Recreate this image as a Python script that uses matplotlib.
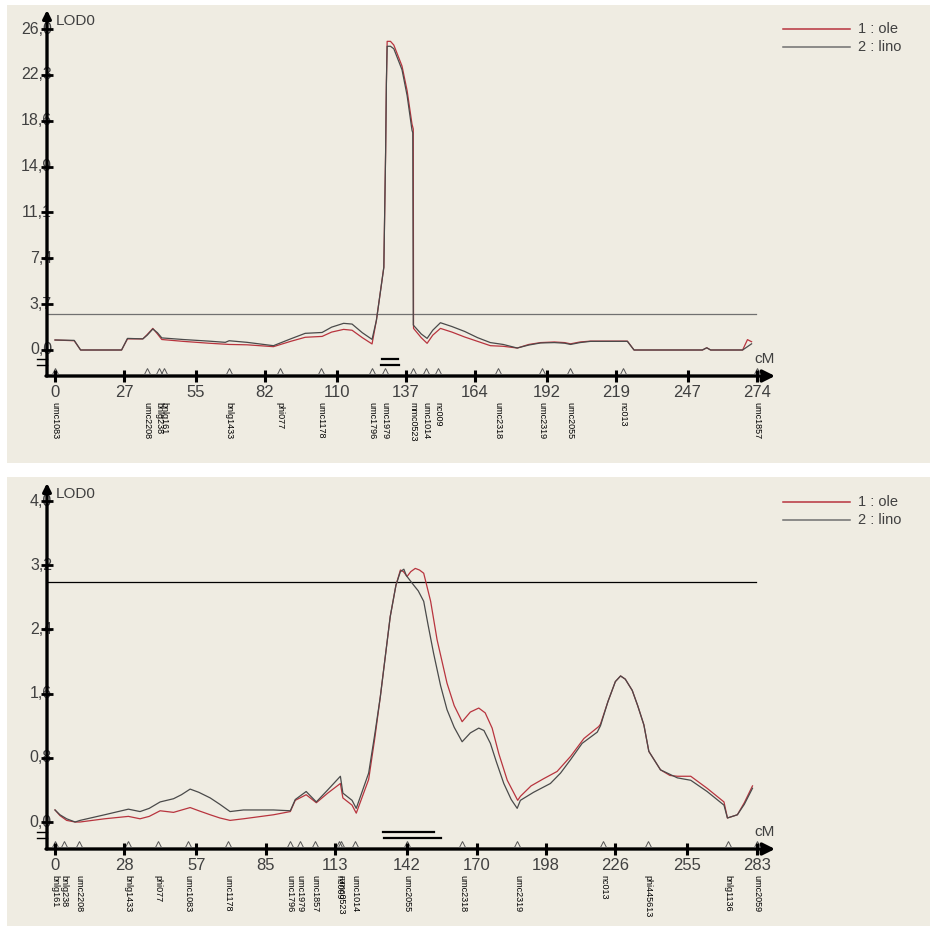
import matplotlib
matplotlib.use("Agg")
import matplotlib.pyplot as plt
from matplotlib.patches import Rectangle

plt.rcParams['font.family'] = ['Liberation Sans', 'DejaVu Sans']

W, H = 933, 930
BG = "#efece2"
RED = "#b8343e"
GREY = "#4a4a4a"
TXT = "#404040"

# ---------------- top chromosome ----------------
top_xticks = [0, 27, 55, 82, 110, 137, 164, 192, 219, 247, 274]
top_yticks = [0.0, 3.714, 7.429, 11.143, 14.857, 18.571, 22.286, 26.0]
top_marker_names = ["umc1083", "umc2208", "bnlg238", "bnlg161", "bnlg1433", "phi077",
                    "umc1178", "umc1796", "umc1979", "mmc0523", "umc1014", "nc009",
                    "umc2318", "umc2319", "umc2055", "nc013", "umc1857"]
top_marker_cm = [0, 36.0, 40.7, 42.6, 68.0, 88.0, 104.0, 123.9, 129.0, 139.6, 145.0,
                 149.7, 172.8, 190.0, 201.0, 221.7, 274]

top_ole_cm = [0, 7.5, 10, 26, 28.3, 34.3, 36, 38.2, 40, 41.7, 50, 60, 68, 75, 85.3, 92,
              97.7, 104.3, 108, 112.7, 116, 120, 123.8, 125.5, 128.4, 129.1, 129.4, 129.7,
              131, 132.3, 135.5, 137.5, 139.4, 139.9, 140.0, 143, 145.3, 147.5, 150.5, 155,
              160, 165, 170, 175, 180.5, 185, 189.6, 195, 199, 201.3, 205, 209.1, 223.5,
              226.1, 252.8, 254.5, 256, 268.5, 270.4, 272]
top_ole_lod = [0.81, 0.75, 0.0, 0.0, 0.9, 0.9, 1.25, 1.75, 1.3, 0.85, 0.7, 0.55, 0.45, 0.42,
               0.27, 0.7, 1.03, 1.1, 1.45, 1.67, 1.6, 1.0, 0.49, 2.4, 6.7, 16.0, 21.6, 25.0,
               25.0, 24.7, 23.0, 21.0, 18.3, 17.9, 1.75, 1.0, 0.54, 1.2, 1.75, 1.45,
               1.05, 0.7, 0.35, 0.3, 0.16, 0.45, 0.6, 0.65, 0.6, 0.5, 0.65, 0.72, 0.72,
               0.0, 0.0, 0.18, 0.0, 0.0, 0.84, 0.67]

top_lino_cm = [0, 7.5, 10, 26, 28.3, 34.3, 36, 38.2, 40, 41.7, 50, 60, 66.5, 68, 75, 85.3,
               92, 97.7, 104.3, 108, 112.7, 116, 120, 123.8, 125.5, 128.4, 129.1, 129.4,
               129.7, 131, 132.3, 135.5, 137.5, 139.4, 139.7, 139.9, 143, 145.3, 147.5,
               150.5, 155, 160, 165, 170, 175, 180.5, 185, 189.6, 195, 199, 201.3, 205,
               209.1, 223.5, 226.1, 252.8, 254.5, 256, 268.5, 272]
top_lino_lod = [0.81, 0.78, 0.0, 0.0, 0.94, 0.9, 1.2, 1.7, 1.4, 0.98, 0.85, 0.72, 0.62,
                0.75, 0.62, 0.35, 0.9, 1.35, 1.42, 1.85, 2.16, 2.1, 1.4, 0.86, 2.4, 6.7,
                16.0, 21.6, 24.6, 24.6, 24.4, 22.7, 20.6, 17.8, 17.6, 2.02, 1.3, 0.94, 1.6,
                2.21, 1.9, 1.5, 1.0, 0.6, 0.45, 0.16, 0.4, 0.57, 0.6, 0.55, 0.45, 0.6, 0.7,
                0.7, 0.0, 0.0, 0.18, 0.0, 0.0, 0.5]

top_threshold = 2.92
top_intervals = [(127.5, 134.0), (127.3, 134.2)]

# ---------------- bottom chromosome ----------------
bot_xticks = [0, 28, 57, 85, 113, 142, 170, 198, 226, 255, 283]
bot_yticks = [0.0, 0.8, 1.6, 2.4, 3.2, 4.0]
bot_marker_names = ["bnlg161", "bnlg238", "umc2208", "bnlg1433", "phi077", "umc1083",
                    "umc1178", "umc1796", "umc1979", "umc1857", "nc009", "mmc0523",
                    "umc1014", "umc2055", "umc2318", "umc2319", "nc013", "phi445613",
                    "bnlg1136", "umc2059"]
bot_marker_cm = [0, 3.6, 9.7, 29.5, 41.6, 53.7, 69.8, 94.9, 98.9, 105.0, 114.7, 115.5,
                 121.1, 142.1, 164.3, 186.5, 221.2, 239.0, 271.3, 283]

bot_ole_cm = [0, 2, 4.7, 8.1, 10.1, 20, 29.6, 34.3, 38, 42.4, 47.8, 54.5, 58, 62.6, 66.5,
              70.6, 76, 88.1, 94.9, 96.9, 101.3, 105.4, 110, 115.1, 116.1, 119.8, 121.5,
              126.5, 129, 131.2, 135.2, 137.5, 139.3, 140.5, 142, 143.5, 145.3, 147, 148.7,
              151.5, 154.1, 158.1, 161, 164.2, 167.5, 170.9, 173.5, 176.3, 179, 182.4,
              186.6, 187.7, 192, 197.1, 202.5, 208, 213.3, 219.3, 220, 223, 226, 228.1,
              230, 232.8, 235, 237.5, 239.5, 244.2, 248, 251, 256.4, 263, 269.8, 271.2,
              275.2, 278, 281.3]
bot_ole_lod = [0.15, 0.08, 0.02, 0.0, 0.0, 0.04, 0.07, 0.04, 0.07, 0.14, 0.12, 0.18, 0.14,
               0.09, 0.05, 0.02, 0.04, 0.09, 0.13, 0.27, 0.34, 0.24, 0.36, 0.48, 0.30, 0.21,
               0.11, 0.53, 1.05, 1.56, 2.56, 2.95, 3.14, 3.12, 3.06, 3.12, 3.16, 3.14, 3.10,
               2.75, 2.27, 1.73, 1.45, 1.25, 1.37, 1.42, 1.36, 1.17, 0.85, 0.52, 0.27,
               0.32, 0.45, 0.54, 0.63, 0.82, 1.04, 1.19, 1.22, 1.5, 1.75, 1.82, 1.78, 1.64,
               1.45, 1.21, 0.88, 0.65, 0.58, 0.57, 0.57, 0.42, 0.25, 0.05, 0.09, 0.24, 0.45]

bot_lino_cm = [0, 2, 4.7, 8.1, 10.1, 20, 29.6, 34.3, 38, 42.4, 47.8, 51, 54.5, 58, 62.6,
               66.5, 70.6, 76, 88.1, 94.9, 96.9, 101.3, 105.4, 110, 115.1, 116.1, 119.8,
               121.5, 126.5, 129, 131.2, 135.2, 137.5, 139.3, 140.7, 141.7, 144.7, 146.5,
               148.7, 150.5, 152.7, 155.5, 158.1, 161, 164.2, 167.5, 170.9, 173, 175.6, 178,
               181, 184, 186.4, 187.7, 193, 199.8, 203.9, 208, 212.6, 218.7, 220, 223, 226,
               228.1, 230, 232.8, 235, 237.5, 239.5, 244.2, 251, 256.4, 263, 269.8, 271.2,
               275.2, 278, 281.3]
bot_lino_lod = [0.15, 0.09, 0.04, 0.0, 0.02, 0.09, 0.16, 0.13, 0.17, 0.25, 0.29, 0.34, 0.41,
                0.37, 0.30, 0.22, 0.13, 0.15, 0.15, 0.14, 0.28, 0.38, 0.25, 0.40, 0.57, 0.36,
                0.27, 0.17, 0.61, 1.1, 1.56, 2.56, 2.95, 3.12, 3.15, 3.07, 2.95, 2.88, 2.75,
                2.45, 2.10, 1.70, 1.40, 1.18, 1.0, 1.11, 1.17, 1.14, 0.98, 0.75, 0.48, 0.28,
                0.17, 0.27, 0.37, 0.48, 0.61, 0.78, 0.98, 1.12, 1.2, 1.5, 1.75, 1.82, 1.78,
                1.64, 1.45, 1.21, 0.88, 0.65, 0.55, 0.52, 0.38, 0.21, 0.05, 0.09, 0.22, 0.42]

bot_threshold = 2.99
bot_intervals = [(132.4, 153.0), (132.8, 155.6)]

series_labels = ["1 : ole", "2 : lino"]

fig = plt.figure(figsize=(W / 100, H / 100), dpi=100)
fig.patch.set_facecolor("white")


def fmt(v):
    return f"{v:.1f}".replace(".", ",")


def panel(box, x0px, x1px, xmax, y0px, y1px, ymax):
    # axes covering the whole beige panel, data mapped to the original pixel layout
    l, t, r, b = box
    ax = fig.add_axes([l / W, 1 - b / H, (r - l) / W, (b - t) / H])
    sx = (x1px - x0px) / xmax
    sy = (y0px - y1px) / ymax
    ax.set_xlim((l - x0px) / sx, (r - x0px) / sx)
    ax.set_ylim((y0px - b) / sy, (y0px - t) / sy)
    ax.axis("off")
    ax.add_patch(Rectangle((0, 0), 1, 1, transform=ax.transAxes, facecolor=BG,
                           edgecolor="none", zorder=0))
    X = lambda p: (p - x0px) / sx
    Y = lambda p: (y0px - p) / sy
    return ax, X, Y


def draw(ax, X, Y, axis_py, ytop_py, xticks, yticks, names, mcm, ole, lino,
         thr, thr_col, intervals, leg_py, ntop_py):
    ya = Y(axis_py)
    # curves
    ax.plot(ole[0], ole[1], color=RED, lw=0.9, zorder=3)
    ax.plot(lino[0], lino[1], color=GREY, lw=0.9, zorder=4)
    # threshold
    ax.plot([X(47), X(756)], [thr, thr], color=thr_col, lw=0.9, zorder=2)
    # axes with arrows
    ax.annotate("", xy=(X(775), ya), xytext=(X(46), ya),
                arrowprops=dict(arrowstyle="-|>", lw=2.4, color="black",
                                mutation_scale=18, shrinkA=0, shrinkB=0), zorder=5)
    ax.annotate("", xy=(X(47), Y(ytop_py)), xytext=(X(47), ya),
                arrowprops=dict(arrowstyle="-|>", lw=2.4, color="black",
                                mutation_scale=12, shrinkA=0, shrinkB=0), zorder=5)
    # y ticks
    ax.plot([X(47)] * len(yticks), yticks, ls="none", marker="_", ms=9, mew=2,
            color="black", zorder=5)
    for v in yticks:
        ax.text(X(52), v, fmt(v), ha="right", va="center", fontsize=11.5, color=TXT,
                zorder=4)
    # small ticks below zero + support intervals
    for k, (a, e) in enumerate(intervals):
        yy = Y(axis_py - 17 + 6 * k)
        ax.plot([X(37), X(47)], [yy, yy], color="black", lw=1, zorder=5)
        ax.plot([a, e], [yy, yy], color="black", lw=1.6, zorder=5)
    # x ticks
    ax.plot(xticks, [ya] * len(xticks), ls="none", marker="|", ms=8, mew=2.2,
            color="black", zorder=6)
    for v in xticks:
        ax.text(v, Y(axis_py + 9), str(v), ha="center", va="top", fontsize=12,
                color=TXT)
    # markers
    ax.plot(mcm, [Y(axis_py - 5)] * len(mcm), ls="none", marker="^", ms=5,
            mfc="none", mec="#555555", mew=0.7, zorder=5)
    for n, c in zip(names, mcm):
        ax.text(c, Y(ntop_py), n, rotation=270, ha="center", va="top",
                fontsize=6.5, color="black")
    # axis names
    ax.text(X(56), Y(ytop_py + 11), "LOD0", ha="left", va="center", fontsize=11,
            color=TXT)
    ax.text(X(765), Y(axis_py - 17), "cM", ha="center", va="center", fontsize=11,
            color=TXT)
    # legend
    for k, (lab, col) in enumerate(zip(series_labels, [RED, "#707070"])):
        yy = Y(leg_py + 18 * k)
        ax.plot([X(783), X(850)], [yy, yy], color=col, lw=1.1)
        ax.text(X(858), yy, lab, ha="left", va="center", fontsize=10.5, color=TXT)


ax1, X1, Y1 = panel((7, 5, 930, 463), 55, 756.7, 274, 350, 29, 26.0)
draw(ax1, X1, Y1, 376, 10, top_xticks, top_yticks, top_marker_names, top_marker_cm,
     (top_ole_cm, top_ole_lod), (top_lino_cm, top_lino_lod), top_threshold, "#707070",
     top_intervals, 29, 402)

ax2, X2, Y2 = panel((7, 477, 930, 926), 55, 756.7, 283, 822, 501, 4.0)
draw(ax2, X2, Y2, 849, 483, bot_xticks, bot_yticks, bot_marker_names, bot_marker_cm,
     (bot_ole_cm, bot_ole_lod), (bot_lino_cm, bot_lino_lod), bot_threshold, "black",
     bot_intervals, 502, 875)

fig.savefig("out.png", dpi=100, facecolor="white")
